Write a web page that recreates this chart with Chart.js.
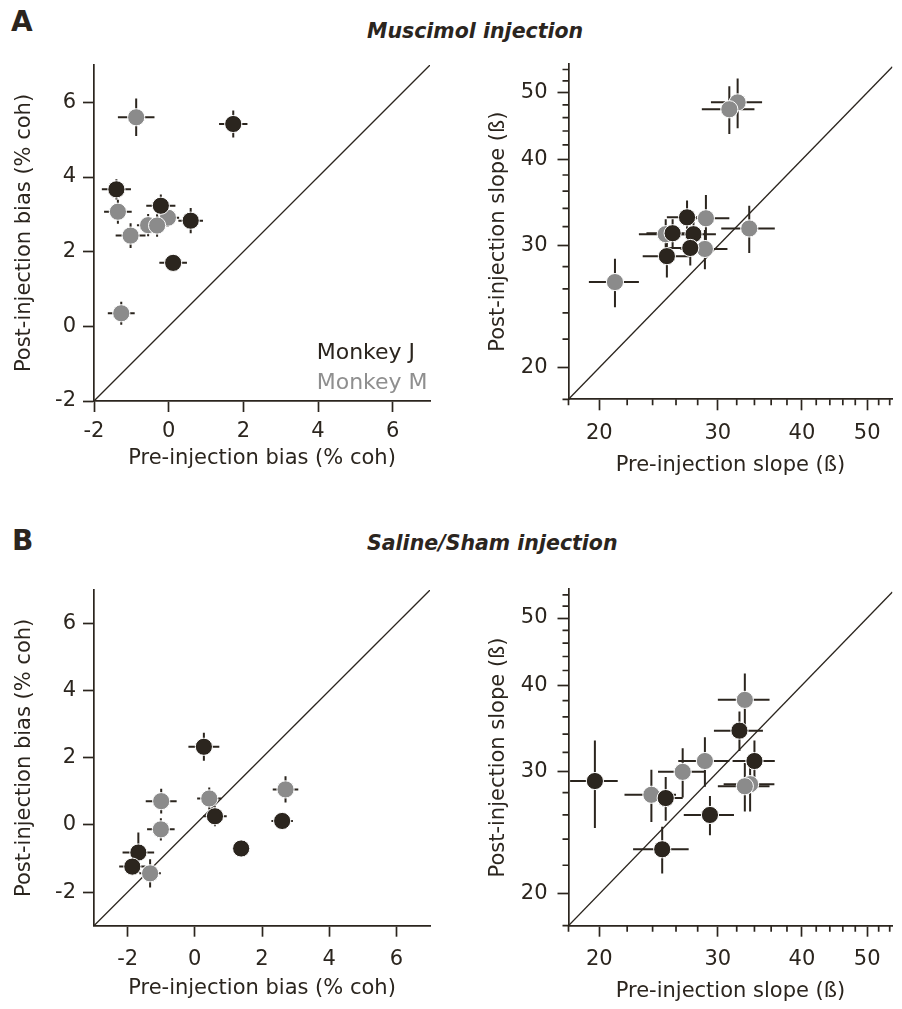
<!DOCTYPE html>
<html>
<head>
<meta charset="utf-8">
<script src="https://cdn.jsdelivr.net/npm/chart.js@4.4.1/dist/chart.umd.min.js"></script>
<style>
  html, body { margin: 0; padding: 0; background: #fff; }
  #fig { position: relative; width: 902px; height: 1009px; overflow: hidden;
         font-family: "DejaVu Sans", sans-serif; color: #2b251e; }
  #fig canvas { position: absolute; }
  .letter { position: absolute; font-weight: bold; font-size: 28px; line-height: 28px; }
  .title { position: absolute; font-weight: bold; font-style: italic; font-size: 20.5px;
           line-height: 20px; white-space: nowrap; }
</style>
</head>
<body>
<div id="fig">
  <div class="letter" style="left:11px; top:8px">A</div>
  <div class="title" style="left:367px; top:21px">Muscimol injection</div>
  <div class="letter" style="left:12px; top:527px">B</div>
  <div class="title" style="left:367px; top:533px">Saline/Sham injection</div>
  <canvas id="musBias" width="450" height="490" style="left:0; top:0"></canvas>
  <canvas id="musSlope" width="452" height="490" style="left:450px; top:0"></canvas>
  <canvas id="salBias" width="450" height="509" style="left:0; top:500px"></canvas>
  <canvas id="salSlope" width="452" height="509" style="left:450px; top:500px"></canvas>
</div>
<script>
// axes
const BIAS_TICKS = [-2, 0, 2, 4, 6];
const MUS_BIAS_RANGE = [-2, 7];
const SAL_BIAS_RANGE = [-3, 7];
const SLOPE_TICKS = [20, 30, 40, 50];
const SLOPE_MINOR = [18, 22, 24, 26, 28, 32, 34, 36, 38, 42, 44, 46, 48, 52, 54];
const SLOPE_X_RANGE = [18, 54.5];
const SLOPE_Y_RANGE = [18, 55];

// muscimol, bias (% coh)
const MUS_BIAS_J_PRE = [1.73, -1.40, -0.21, 0.59, 0.12];
const MUS_BIAS_J_POST = [5.42, 3.67, 3.23, 2.83, 1.70];
const MUS_BIAS_J_PRE_ERR = [0.38, 0.39, 0.39, 0.33, 0.37];
const MUS_BIAS_J_POST_ERR = [0.36, 0.27, 0.30, 0.34, 0.22];
const MUS_BIAS_M_PRE = [-0.87, -1.36, -1.02, -0.55, -0.02, -0.31, -1.27];
const MUS_BIAS_M_POST = [5.60, 3.07, 2.43, 2.71, 2.91, 2.70, 0.35];
const MUS_BIAS_M_PRE_ERR = [0.49, 0.37, 0.40, 0.30, 0.30, 0.28, 0.36];
const MUS_BIAS_M_POST_ERR = [0.50, 0.32, 0.33, 0.30, 0.25, 0.30, 0.31];

// muscimol, slope
const MUS_SLOPE_J_PRE = [27.0, 25.7, 27.6, 27.3, 25.2];
const MUS_SLOPE_J_POST = [33.0, 31.3, 31.2, 29.8, 29.0];
const MUS_SLOPE_J_PRE_ERR = [1.8, 2.2, 2.2, 2.0, 2.0];
const MUS_SLOPE_J_POST_ERR = [1.9, 1.5, 1.5, 1.7, 2.0];
const MUS_SLOPE_M_PRE = [21.1, 32.1, 31.2, 28.8, 33.4, 28.7, 25.1];
const MUS_SLOPE_M_POST = [26.6, 48.4, 47.3, 32.9, 31.8, 29.7, 31.2];
const MUS_SLOPE_M_PRE_ERR = [1.8, 2.8, 2.8, 2.4, 3.05, 2.3, 2.2];
const MUS_SLOPE_M_POST_ERR = [2.15, 4.0, 3.75, 2.65, 2.5, 1.95, 1.6];

// saline/sham, bias (% coh)
const SAL_BIAS_J_PRE = [0.27, 0.60, 2.60, 1.38, -1.68, -1.86];
const SAL_BIAS_J_POST = [2.33, 0.26, 0.12, -0.70, -0.82, -1.24];
const SAL_BIAS_J_PRE_ERR = [0.46, 0.35, 0.32, 0.15, 0.47, 0.39];
const SAL_BIAS_J_POST_ERR = [0.42, 0.30, 0.20, 0.15, 0.60, 0.25];
const SAL_BIAS_M_PRE = [2.70, 0.43, -1.00, -1.01, -1.33];
const SAL_BIAS_M_POST = [1.06, 0.79, 0.71, -0.13, -1.44];
const SAL_BIAS_M_PRE_ERR = [0.38, 0.36, 0.46, 0.41, 0.32];
const SAL_BIAS_M_POST_ERR = [0.39, 0.33, 0.37, 0.33, 0.42];

// saline/sham, slope
const SAL_SLOPE_J_PRE = [19.7, 25.1, 24.8, 29.2, 32.3, 34.0];
const SAL_SLOPE_J_POST = [29.1, 27.5, 23.2, 26.0, 34.4, 31.1];
const SAL_SLOPE_J_PRE_ERR = [1.6, 1.5, 2.35, 2.5, 2.7, 2.45];
const SAL_SLOPE_J_POST_ERR = [4.2, 2.0, 1.8, 1.7, 2.25, 2.2];
const SAL_SLOPE_M_PRE = [32.9, 28.7, 26.6, 23.9, 33.5, 32.9];
const SAL_SLOPE_M_POST = [38.1, 31.1, 30.0, 27.8, 28.8, 28.6];
const SAL_SLOPE_M_PRE_ERR = [2.9, 2.5, 2.15, 2.1, 2.9, 2.9];
const SAL_SLOPE_M_POST_ERR = [3.5, 2.55, 2.45, 2.4, 2.5, 2.3];

const INK = '#2b251e';
const GREY = '#8b8b8b';
const GREY_TEXT = '#8f8f8f';
const FONT = '"DejaVu Sans", sans-serif';

Chart.defaults.font.family = FONT;
Chart.defaults.color = INK;

// crosshair error bars, drawn underneath the markers
const errorBars = {
  id: 'errorBars',
  beforeDatasetsDraw(chart) {
    const { ctx, scales: { x, y } } = chart;
    ctx.save();
    ctx.strokeStyle = INK;
    ctx.lineWidth = 2;
    chart.data.datasets.forEach(ds => {
      if (!ds.xErr) return;
      ds.data.forEach((p, i) => {
        const px = x.getPixelForValue(p.x);
        const py = y.getPixelForValue(p.y);
        ctx.beginPath();
        ctx.moveTo(x.getPixelForValue(p.x - ds.xErr[i]), py);
        ctx.lineTo(x.getPixelForValue(p.x + ds.xErr[i]), py);
        ctx.moveTo(px, y.getPixelForValue(p.y - ds.yErr[i]));
        ctx.lineTo(px, y.getPixelForValue(p.y + ds.yErr[i]));
        ctx.stroke();
      });
    });
    ctx.restore();
  }
};

// short unlabelled ticks for the log axes
const minorTicks = {
  id: 'minorTicks',
  afterDraw(chart, args, opts) {
    if (!opts.values) return;
    const { ctx, chartArea, scales: { x, y } } = chart;
    ctx.save();
    ctx.strokeStyle = INK;
    ctx.lineWidth = 1.7;
    ctx.beginPath();
    opts.values.forEach(v => {
      const px = x.getPixelForValue(v);
      if (px >= chartArea.left - 0.5 && px <= chartArea.right + 0.5) {
        ctx.moveTo(px, chartArea.bottom);
        ctx.lineTo(px, chartArea.bottom + opts.length);
      }
      const py = y.getPixelForValue(v);
      if (py >= chartArea.top - 0.5 && py <= chartArea.bottom + 0.5) {
        ctx.moveTo(chartArea.left, py);
        ctx.lineTo(chartArea.left - opts.length, py);
      }
    });
    ctx.stroke();
    ctx.restore();
  }
};

// text-only legend inside the plot
const monkeyLegend = {
  id: 'monkeyLegend',
  afterDraw(chart, args, opts) {
    if (!opts.show) return;
    const { ctx, chartArea } = chart;
    const rows = chart.data.datasets.filter(d => d.textColor)
      .sort((a, b) => (a.label < b.label ? -1 : 1));
    ctx.save();
    ctx.font = '22px ' + FONT;
    ctx.textAlign = 'left';
    ctx.textBaseline = 'alphabetic';
    rows.forEach((d, i) => {
      ctx.fillStyle = d.textColor;
      ctx.fillText(d.label, chartArea.left + opts.dx, chartArea.top + opts.dy + i * 30);
    });
    ctx.restore();
  }
};

function axis(p, which) {
  const isX = which === 'x';
  const range = isX ? p.xRange : p.yRange;
  return {
    type: p.log ? 'logarithmic' : 'linear',
    position: isX ? 'bottom' : 'left',
    min: range[0],
    max: range[1],
    afterBuildTicks: s => { s.ticks = p.ticks.map(v => ({ value: v })); },
    afterFit: s => { if (isX) s.height = p.xBand; else s.width = p.yBand; },
    border: { display: true, color: INK, width: 1.7 },
    grid: { drawOnChartArea: false, drawTicks: true, tickLength: 11, tickWidth: 1.7, tickColor: INK },
    ticks: {
      font: { size: 21 }, color: INK, maxRotation: 0, autoSkip: false,
      padding: isX ? p.xTickPad : p.yTickPad,
      callback: v => String(v)
    },
    title: {
      display: true, color: INK, font: { size: 21 },
      text: isX ? p.xTitle : p.yTitle,
      padding: isX ? { top: 0, bottom: p.xTitlePad } : { top: p.yTitlePad, bottom: 0 }
    }
  };
}

function buildPanel(id, p) {
  const pts = (xs, ys) => xs.map((v, i) => ({ x: v, y: ys[i] }));
  const [lo, hi] = p.xRange;
  new Chart(document.getElementById(id), {
    type: 'scatter',
    data: {
      datasets: [
        { label: 'unity', data: [{ x: lo, y: lo }, { x: hi, y: hi }], showLine: true,
          borderColor: INK, borderWidth: 1.3, pointRadius: 0, order: 3 },
        { label: 'Monkey M', data: pts(p.m[0], p.m[1]), xErr: p.m[2], yErr: p.m[3],
          backgroundColor: GREY, borderColor: '#ffffff', borderWidth: 1, pointRadius: 8.6,
          order: 2, textColor: GREY_TEXT },
        { label: 'Monkey J', data: pts(p.j[0], p.j[1]), xErr: p.j[2], yErr: p.j[3],
          backgroundColor: INK, borderColor: '#ffffff', borderWidth: 1, pointRadius: 8.6,
          order: 1, textColor: INK }
      ]
    },
    options: {
      responsive: false,
      animation: false,
      devicePixelRatio: 1,
      events: [],
      layout: { padding: p.pad },
      scales: { x: axis(p, 'x'), y: axis(p, 'y') },
      plugins: {
        legend: { display: false },
        tooltip: { enabled: false },
        minorTicks: p.log ? { values: SLOPE_MINOR, length: 6 } : {},
        monkeyLegend: p.legend || {}
      }
    },
    plugins: [errorBars, minorTicks, monkeyLegend]
  });
}

const BIAS_X_TITLE = 'Pre-injection bias (% coh)';
const BIAS_Y_TITLE = 'Post-injection bias (% coh)';
const SLOPE_X_TITLE = 'Pre-injection slope (ß)';
const SLOPE_Y_TITLE = 'Post-injection slope (ß)';

buildPanel('musBias', {
  log: false, xRange: MUS_BIAS_RANGE, yRange: MUS_BIAS_RANGE, ticks: BIAS_TICKS,
  xTitle: BIAS_X_TITLE, yTitle: BIAS_Y_TITLE,
  pad: { left: 0, top: 65, right: 20, bottom: 0 },
  yBand: 94, xBand: 89, xTickPad: 7, yTickPad: 7, xTitlePad: 19, yTitlePad: 11.5,
  j: [MUS_BIAS_J_PRE, MUS_BIAS_J_POST, MUS_BIAS_J_PRE_ERR, MUS_BIAS_J_POST_ERR],
  m: [MUS_BIAS_M_PRE, MUS_BIAS_M_POST, MUS_BIAS_M_PRE_ERR, MUS_BIAS_M_POST_ERR],
  legend: { show: true, dx: 222.7, dy: 294.3 }
});

buildPanel('musSlope', {
  log: true, xRange: SLOPE_X_RANGE, yRange: SLOPE_Y_RANGE, ticks: SLOPE_TICKS,
  xTitle: SLOPE_X_TITLE, yTitle: SLOPE_Y_TITLE,
  pad: { left: 0, top: 64, right: 0, bottom: 0 },
  yBand: 118.5, xBand: 90.7, xTickPad: 11, yTickPad: 10, xTitlePad: 12, yTitlePad: 36.4,
  j: [MUS_SLOPE_J_PRE, MUS_SLOPE_J_POST, MUS_SLOPE_J_PRE_ERR, MUS_SLOPE_J_POST_ERR],
  m: [MUS_SLOPE_M_PRE, MUS_SLOPE_M_POST, MUS_SLOPE_M_PRE_ERR, MUS_SLOPE_M_POST_ERR]
});

buildPanel('salBias', {
  log: false, xRange: SAL_BIAS_RANGE, yRange: SAL_BIAS_RANGE, ticks: BIAS_TICKS,
  xTitle: BIAS_X_TITLE, yTitle: BIAS_Y_TITLE,
  pad: { left: 0, top: 90, right: 20, bottom: 0 },
  yBand: 94, xBand: 83.3, xTickPad: 10, yTickPad: 7, xTitlePad: 7.4, yTitlePad: 11.5,
  j: [SAL_BIAS_J_PRE, SAL_BIAS_J_POST, SAL_BIAS_J_PRE_ERR, SAL_BIAS_J_POST_ERR],
  m: [SAL_BIAS_M_PRE, SAL_BIAS_M_POST, SAL_BIAS_M_PRE_ERR, SAL_BIAS_M_POST_ERR]
});

buildPanel('salSlope', {
  log: true, xRange: SLOPE_X_RANGE, yRange: SLOPE_Y_RANGE, ticks: SLOPE_TICKS,
  xTitle: SLOPE_X_TITLE, yTitle: SLOPE_Y_TITLE,
  pad: { left: 0, top: 89.3, right: 0, bottom: 0 },
  yBand: 118.5, xBand: 83.3, xTickPad: 10, yTickPad: 10, xTitlePad: 4.4, yTitlePad: 36.4,
  j: [SAL_SLOPE_J_PRE, SAL_SLOPE_J_POST, SAL_SLOPE_J_PRE_ERR, SAL_SLOPE_J_POST_ERR],
  m: [SAL_SLOPE_M_PRE, SAL_SLOPE_M_POST, SAL_SLOPE_M_PRE_ERR, SAL_SLOPE_M_POST_ERR]
});
</script>
</body>
</html>
